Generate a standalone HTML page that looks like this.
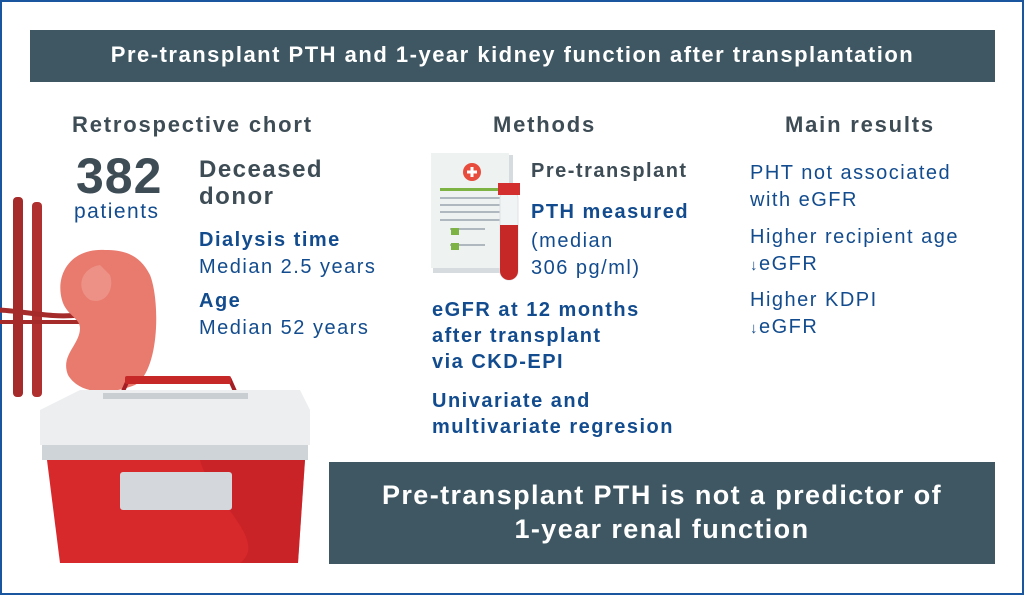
<!DOCTYPE html>
<html><head><meta charset="utf-8"><style>
body{margin:0;width:1024px;height:595px;overflow:hidden;background:#fff;font-family:"Liberation Sans",sans-serif;position:relative}
.frame{position:absolute;left:0;top:0;width:1020px;height:591px;border:2px solid #1a56a0}
.t{position:absolute;white-space:nowrap;letter-spacing:1.5px}
.g{color:#3d4c55;font-weight:bold}
.b{color:#134c8e}
.bb{color:#134c8e;font-weight:bold}
</style></head><body>
<div class="frame"></div>
<div style="position:absolute;left:30px;top:30px;width:965px;height:52px;background:#3e5762"></div>
<div class="t" style="left:30px;width:965px;top:42px;text-align:center;color:#fff;font-weight:bold;font-size:22px;letter-spacing:1.5px">Pre-transplant PTH and 1-year kidney function after transplantation</div>

<div class="t g" style="left:72px;top:112px;font-size:22px;letter-spacing:1.8px">Retrospective chort</div>
<div class="t g" style="left:493px;top:112px;font-size:22px;letter-spacing:1.8px">Methods</div>
<div class="t g" style="left:785px;top:112px;font-size:22px;letter-spacing:1.8px">Main results</div>

<div class="t g" style="left:76px;top:147px;font-size:50px;letter-spacing:1px">382</div>
<div class="t b" style="left:74px;top:200px;font-size:21px">patients</div>
<div class="t g" style="left:199px;top:156px;font-size:24px;line-height:27px">Deceased<br>donor</div>
<div class="t bb" style="left:199px;top:229px;font-size:20px">Dialysis time</div>
<div class="t b" style="left:199px;top:256px;font-size:20px">Median 2.5 years</div>
<div class="t bb" style="left:199px;top:290px;font-size:20px">Age</div>
<div class="t b" style="left:199px;top:317px;font-size:20px">Median 52 years</div>

<div class="t g" style="left:531px;top:160px;font-size:20px">Pre-transplant</div>
<div class="t bb" style="left:531px;top:201px;font-size:20px">PTH measured</div>
<div class="t b" style="left:531px;top:228px;font-size:20px;line-height:27px">(median<br>306 pg/ml)</div>
<div class="t bb" style="left:432px;top:297px;font-size:20px;line-height:26px">eGFR at 12 months<br>after transplant<br>via CKD-EPI</div>
<div class="t bb" style="left:432px;top:388px;font-size:20px;line-height:26px">Univariate and<br>multivariate regresion</div>

<div class="t b" style="left:750px;top:160px;font-size:20px;line-height:27px">PHT not associated<br>with eGFR</div>
<div class="t b" style="left:750px;top:224px;font-size:20px;line-height:27px">Higher recipient age<br><span style="font-size:15px">↓</span>eGFR</div>
<div class="t b" style="left:750px;top:287px;font-size:20px;line-height:27px">Higher KDPI<br><span style="font-size:15px">↓</span>eGFR</div>

<div style="position:absolute;left:329px;top:462px;width:666px;height:102px;background:#3e5762"></div>
<div class="t" style="left:329px;width:666px;top:478px;text-align:center;color:#fff;font-weight:bold;font-size:27px;line-height:34px;letter-spacing:1.4px">Pre-transplant PTH is not a predictor of<br>1-year renal function</div>

<svg style="position:absolute;left:0;top:0" width="1024" height="595">
 <rect x="433" y="155" width="80" height="118" fill="#d6dbe0"/>
 <rect x="431" y="153" width="78" height="115" fill="#eef3f2"/>
 <circle cx="472" cy="172" r="9" fill="#e74c3c"/><path d="M472 167v10M467 172h10" stroke="#fff" stroke-width="3"/>
 <rect x="440" y="188" width="60" height="3" fill="#7cb342"/>
 <g stroke="#9aa5ad" stroke-width="1.5"><path d="M440 198h60M440 205h60M440 212h60M440 220h60M450 229h35M450 245h35"/></g>
 <rect x="451" y="228" width="8" height="7" fill="#7cb342"/><rect x="451" y="243" width="8" height="7" fill="#7cb342"/>
 <rect x="500" y="190" width="18" height="90" rx="9" fill="#f1f4f5" stroke="#dde2e5"/>
 <path d="M500 225h18v46a9 9 0 0 1-18 0z" fill="#c62828"/>
 <rect x="498" y="183" width="22" height="12" fill="#d32f2f"/>
 <rect x="13" y="197" width="10" height="200" rx="4" fill="#a52a2a"/>
 <rect x="32" y="202" width="10" height="195" rx="4" fill="#b03030"/>
 <path d="M0 310 C30 312 50 318 80 315" stroke="#a52a2a" stroke-width="5" fill="none"/>
 <path d="M0 322 C30 322 50 322 80 322" stroke="#a52a2a" stroke-width="4" fill="none"/>
 <path d="M105 250 C70 248 55 275 62 300 C66 315 80 318 80 328 C80 345 60 355 68 375 C80 395 110 395 135 385 C160 370 160 300 150 275 C140 255 125 250 105 250 Z" fill="#e87a6e"/>
 <path d="M100 265 C80 268 75 290 90 300 C105 305 115 290 110 275Z" fill="#f09a8e" opacity=".7"/>
 <path d="M120 398 L128 380 H230 L238 398" stroke="#a31f24" stroke-width="4" fill="none"/>
 <rect x="125" y="376" width="106" height="8" rx="2" fill="#c62828"/>
 <path d="M80 390 H300 L310 410 V445 H40 V410 Z" fill="#eceef0"/>
 <rect x="103" y="393" width="145" height="6" fill="#c9ced3"/>
 <rect x="42" y="445" width="266" height="15" fill="#cfd4d8"/>
 <path d="M47 460 H305 L298 563 H60 Z" fill="#d7282c"/>
 <path d="M200 460 H305 L298 563 H240 C270 540 210 500 200 460Z" fill="#c21f25" opacity=".6"/>
 <rect x="120" y="472" width="112" height="38" rx="3" fill="#d4d8dc"/>
</svg>
</body></html>
